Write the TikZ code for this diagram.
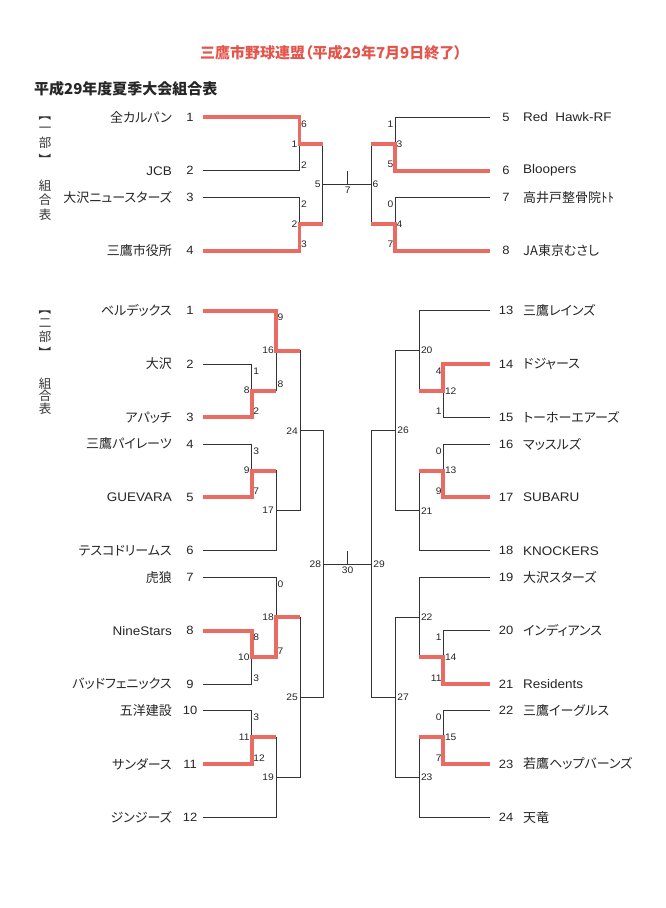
\documentclass[tikz,border=0pt]{standalone}
\usepackage{fontspec}
\setmainfont{Liberation Sans}[FakeStretch=1.08]
\newfontfamily\jpfont{Noto Sans CJK JP}[RawFeature=+palt]
\usetikzlibrary{positioning}
\definecolor{WinRed}{HTML}{E96B62}
\definecolor{TitleRed}{HTML}{E5544B}
\definecolor{LineGray}{HTML}{333333}
\tikzset{
  % Text styles
  titletext/.style={font=\jpfont\bfseries\fontsize{15}{17}\selectfont, text=TitleRed, inner sep=0pt},
  headtext/.style={font=\jpfont\bfseries\fontsize{15}{17}\selectfont, text=black!85, inner sep=0pt},
  sidechar/.style={font=\jpfont\fontsize{12.5}{14}\selectfont, inner sep=0pt, text=black!80},
  tnum/.style={font=\fontsize{12}{14}\selectfont, inner sep=0pt, text=black!85},
  jname/.style={font=\jpfont\fontsize{13}{15}\selectfont, inner sep=0pt, text=black!85},
  ename/.style={font=\fontsize{12.5}{14}\selectfont, inner sep=0pt, text=black!85},
  score/.style={font=\fontsize{9.5}{11}\selectfont, inner sep=0pt, text=black!85},
  scl/.style={score, anchor=east},
  scr/.style={score, anchor=west},
  % Line styles
  bline/.style={draw=LineGray, line width=1pt},
  winline/.style={draw=WinRed, line width=3.8pt}
}
\begin{document}
\begin{tikzpicture}[x=1pt, y=-1pt]
  \fill[white] (0,0) rectangle (666,908);
  \useasboundingbox (0,0) rectangle (666,908);

  % Titles
  \node[titletext] (title) at (331,53) {三鷹市野球連盟（平成29年7月9日終了）};
  \node[headtext, anchor=west] (head) at (34,89) {平成29年度夏季大会組合表};

  % Division labels (vertical)
  \node[sidechar, rotate=-90] (d1open) at (45,118) {【};
  \node[sidechar] (d1num) at (45,129.5) {一};
  \node[sidechar] (d1bu) at (45,143) {部};
  \node[sidechar, rotate=-90] (d1close) at (45,157) {】};
  \node[sidechar] (d1k1) at (45,185.5) {組};
  \node[sidechar] (d1k2) at (45,200) {合};
  \node[sidechar] (d1k3) at (45,214.5) {表};
  \node[sidechar, rotate=-90] (d2open) at (45,312) {【};
  \node[sidechar] (d2num) at (45,323.5) {二};
  \node[sidechar] (d2bu) at (45,336.5) {部};
  \node[sidechar, rotate=-90] (d2close) at (45,350) {】};
  \node[sidechar] (d2k1) at (45,383.5) {組};
  \node[sidechar] (d2k2) at (45,396) {合};
  \node[sidechar] (d2k3) at (45,408.5) {表};

  % First division, left teams
  \coordinate (a1) at (203,117.3); \node[tnum] (a1n) at (190,117.3) {1}; \node[jname, anchor=east] (a1t) at (172,117.3) {全カルパン};
  \coordinate (a2) at (203,170.7); \node[tnum] (a2n) at (190,170.7) {2}; \node[ename, anchor=east] (a2t) at (172,170.7) {JCB};
  \coordinate (a3) at (203,197.3); \node[tnum] (a3n) at (190,197.3) {3}; \node[jname, anchor=east] (a3t) at (172,197.3) {大沢ニュースターズ};
  \coordinate (a4) at (203,250.7); \node[tnum] (a4n) at (190,250.7) {4}; \node[jname, anchor=east] (a4t) at (172,250.7) {三鷹市役所};

  % First division, right teams
  \coordinate (a5) at (490,117.3); \node[tnum] (a5n) at (506,117.3) {5}; \node[ename, anchor=west] (a5t) at (523,117.3) {Red\ \ Hawk-RF};
  \coordinate (a6) at (490,170.7); \node[tnum] (a6n) at (506,170.7) {6}; \node[ename, anchor=west] (a6t) at (523,170.7) {Bloopers};
  \coordinate (a7) at (490,197.3); \node[tnum] (a7n) at (506,197.3) {7}; \node[jname, anchor=west] (a7t) at (523,197.3) {高井戸整骨院ﾄﾄ};
  \coordinate (a8) at (490,250.7); \node[tnum] (a8n) at (506,250.7) {8}; \node[jname, anchor=west] (a8t) at (523,250.7) {JA東京むさし};

  % First division, matches
  \coordinate (m1) at (299.5,144);
  \coordinate (m2) at (299.5,224);
  \coordinate (m3) at (395,144);
  \coordinate (m4) at (395,224);
  \coordinate (m5) at (322.7,184);
  \coordinate (m6) at (371,184);
  \coordinate (m7) at (347.7,184);
  \coordinate (m7t) at (347.7,171);

  \draw[bline] (a1) -| (m1) (a2) -| (m1) (a3) -| (m2) (a4) -| (m2);
  \draw[bline] (a5) -| (m3) (a6) -| (m3) (a7) -| (m4) (a8) -| (m4);
  \draw[bline] (m1) -| (m5) (m2) -| (m5) (m3) -| (m6) (m4) -| (m6);
  \draw[bline] (m5) -- (m6) (m7) -- (m7t);

  % First division, winners
  \draw[winline] (a1) -| (m1) -- (m1 -| m5);
  \draw[winline] (a4) -| (m2) -- (m2 -| m5);
  \draw[winline] (a6) -| (m3) -- (m3 -| m6);
  \draw[winline] (a8) -| (m4) -- (m4 -| m6);

  % First division, scores
  \node[scr] (m1s1) at (301,124.3) {6}; \node[score, left=2pt of m1] (m1n) {1}; \node[scr] (m1s2) at (301,164.7) {2};
  \node[scr] (m2s1) at (301,204.3) {2}; \node[score, left=2pt of m2] (m2n) {2}; \node[scr] (m2s2) at (301,244.7) {3};
  \node[scl] (m3s1) at (393.5,124.3) {1}; \node[score, right=1.5pt of m3] (m3n) {3}; \node[scl] (m3s2) at (393.5,164.7) {5};
  \node[scl] (m4s1) at (393.5,204.3) {0}; \node[score, right=1.5pt of m4] (m4n) {4}; \node[scl] (m4s2) at (393.5,244.7) {7};
  \node[score, left=2pt of m5] (m5n) {5};
  \node[score, right=1.5pt of m6] (m6n) {6};
  \node[score, below=3pt of m7] (m7n) {7};

  % Second division, left teams
  \coordinate (b1) at (203,310.7); \node[tnum] (b1n) at (190,310.7) {1}; \node[jname, anchor=east] (b1t) at (172,310.7) {ベルデックス};
  \coordinate (b2) at (203,364); \node[tnum] (b2n) at (190,364) {2}; \node[jname, anchor=east] (b2t) at (172,364) {大沢};
  \coordinate (b3) at (203,417.3); \node[tnum] (b3n) at (190,417.3) {3}; \node[jname, anchor=east] (b3t) at (172,417.3) {アパッチ};
  \coordinate (b4) at (203,444); \node[tnum] (b4n) at (190,444) {4}; \node[jname, anchor=east] (b4t) at (172,444) {三鷹パイレーツ};
  \coordinate (b5) at (203,497.3); \node[tnum] (b5n) at (190,497.3) {5}; \node[ename, anchor=east] (b5t) at (172,497.3) {GUEVARA};
  \coordinate (b6) at (203,550.7); \node[tnum] (b6n) at (190,550.7) {6}; \node[jname, anchor=east] (b6t) at (172,550.7) {テスコドリームス};
  \coordinate (b7) at (203,577.3); \node[tnum] (b7n) at (190,577.3) {7}; \node[jname, anchor=east] (b7t) at (172,577.3) {虎狼};
  \coordinate (b8) at (203,630.7); \node[tnum] (b8n) at (190,630.7) {8}; \node[ename, anchor=east] (b8t) at (172,630.7) {NineStars};
  \coordinate (b9) at (203,684); \node[tnum] (b9n) at (190,684) {9}; \node[jname, anchor=east] (b9t) at (172,684) {バッドフェニックス};
  \coordinate (b10) at (203,710.7); \node[tnum] (b10n) at (190,710.7) {10}; \node[jname, anchor=east] (b10t) at (172,710.7) {五洋建設};
  \coordinate (b11) at (203,764); \node[tnum] (b11n) at (190,764) {11}; \node[jname, anchor=east] (b11t) at (172,764) {サンダース};
  \coordinate (b12) at (203,817.3); \node[tnum] (b12n) at (190,817.3) {12}; \node[jname, anchor=east] (b12t) at (172,817.3) {ジンジーズ};

  % Second division, right teams
  \coordinate (b13) at (490,310.7); \node[tnum] (b13n) at (506,310.7) {13}; \node[jname, anchor=west] (b13t) at (523,310.7) {三鷹レインズ};
  \coordinate (b14) at (490,364); \node[tnum] (b14n) at (506,364) {14}; \node[jname, anchor=west] (b14t) at (523,364) {ドジャース};
  \coordinate (b15) at (490,417.3); \node[tnum] (b15n) at (506,417.3) {15}; \node[jname, anchor=west] (b15t) at (523,417.3) {トーホーエアーズ};
  \coordinate (b16) at (490,444); \node[tnum] (b16n) at (506,444) {16}; \node[jname, anchor=west] (b16t) at (523,444) {マッスルズ};
  \coordinate (b17) at (490,497.3); \node[tnum] (b17n) at (506,497.3) {17}; \node[ename, anchor=west] (b17t) at (523,497.3) {SUBARU};
  \coordinate (b18) at (490,550.7); \node[tnum] (b18n) at (506,550.7) {18}; \node[ename, anchor=west] (b18t) at (523,550.7) {KNOCKERS};
  \coordinate (b19) at (490,577.3); \node[tnum] (b19n) at (506,577.3) {19}; \node[jname, anchor=west] (b19t) at (523,577.3) {大沢スターズ};
  \coordinate (b20) at (490,630.7); \node[tnum] (b20n) at (506,630.7) {20}; \node[jname, anchor=west] (b20t) at (523,630.7) {インディアンス};
  \coordinate (b21) at (490,684); \node[tnum] (b21n) at (506,684) {21}; \node[ename, anchor=west] (b21t) at (523,684) {Residents};
  \coordinate (b22) at (490,710.7); \node[tnum] (b22n) at (506,710.7) {22}; \node[jname, anchor=west] (b22t) at (523,710.7) {三鷹イーグルス};
  \coordinate (b23) at (490,764); \node[tnum] (b23n) at (506,764) {23}; \node[jname, anchor=west] (b23t) at (523,764) {若鷹ヘップバーンズ};
  \coordinate (b24) at (490,817.3); \node[tnum] (b24n) at (506,817.3) {24}; \node[jname, anchor=west] (b24t) at (523,817.3) {天竜};

  % Second division, matches
  \coordinate (m8) at (251.7,390.7);
  \coordinate (m9) at (251.7,470.7);
  \coordinate (m10) at (251.7,657.3);
  \coordinate (m11) at (251.7,737.3);
  \coordinate (m12) at (443.3,390.7);
  \coordinate (m13) at (443.3,470.7);
  \coordinate (m14) at (443.3,657.3);
  \coordinate (m15) at (443.3,737.3);
  \coordinate (m16) at (276,350.7);
  \coordinate (m17) at (276,510.7);
  \coordinate (m18) at (276,617.3);
  \coordinate (m19) at (276,777.3);
  \coordinate (m20) at (419.3,350.7);
  \coordinate (m21) at (419.3,510.7);
  \coordinate (m22) at (419.3,617.3);
  \coordinate (m23) at (419.3,777.3);
  \coordinate (m24) at (300,430.7);
  \coordinate (m25) at (300,697.3);
  \coordinate (m26) at (395.7,430.7);
  \coordinate (m27) at (395.7,697.3);
  \coordinate (m28) at (323.3,564);
  \coordinate (m29) at (371.7,564);
  \coordinate (m30) at (347.7,564);
  \coordinate (m30t) at (347.7,551);

  \draw[bline] (b1) -| (m16) (b2) -| (m8) (b3) -| (m8) (m8) -| (m16);
  \draw[bline] (b4) -| (m9) (b5) -| (m9) (m9) -| (m17) (b6) -| (m17);
  \draw[bline] (b7) -| (m18) (b8) -| (m10) (b9) -| (m10) (m10) -| (m18);
  \draw[bline] (b10) -| (m11) (b11) -| (m11) (m11) -| (m19) (b12) -| (m19);
  \draw[bline] (b13) -| (m20) (b14) -| (m12) (b15) -| (m12) (m12) -| (m20);
  \draw[bline] (b16) -| (m13) (b17) -| (m13) (m13) -| (m21) (b18) -| (m21);
  \draw[bline] (b19) -| (m22) (b20) -| (m14) (b21) -| (m14) (m14) -| (m22);
  \draw[bline] (b22) -| (m15) (b23) -| (m15) (m15) -| (m23) (b24) -| (m23);
  \draw[bline] (m16) -| (m24) (m17) -| (m24) (m18) -| (m25) (m19) -| (m25);
  \draw[bline] (m20) -| (m26) (m21) -| (m26) (m22) -| (m27) (m23) -| (m27);
  \draw[bline] (m24) -| (m28) (m25) -| (m28) (m26) -| (m29) (m27) -| (m29);
  \draw[bline] (m28) -- (m29) (m30) -- (m30t);

  % Second division, winners
  \draw[winline] (b1) -| (m16) -- (m16 -| m24);
  \draw[winline] (b3) -| (m8) -- (m8 -| m16);
  \draw[winline] (b5) -| (m9) -- (m9 -| m17);
  \draw[winline] (b8) -| (m10) -| (m18) -- (m18 -| m25);
  \draw[winline] (b11) -| (m11) -- (m11 -| m19);
  \draw[winline] (b14) -| (m12) -- (m12 -| m20);
  \draw[winline] (b17) -| (m13) -- (m13 -| m21);
  \draw[winline] (b21) -| (m14) -- (m14 -| m22);
  \draw[winline] (b23) -| (m15) -- (m15 -| m23);

  % Second division, scores
  \node[scr] (m8s1) at (253.2,371) {1}; \node[score, left=2pt of m8] (m8n) {8}; \node[scr] (m8s2) at (253.2,411.3) {2};
  \node[scr] (m16s1) at (277.5,317.7) {9}; \node[score, left=2pt of m16] (m16n) {16}; \node[scr] (m16s2) at (277.5,384.7) {8};
  \node[scr] (m9s1) at (253.2,451) {3}; \node[score, left=2pt of m9] (m9n) {9}; \node[scr] (m9s2) at (253.2,491.3) {7};
  \node[score, left=2pt of m17] (m17n) {17};
  \node[score, left=2pt of m24] (m24n) {24};
  \node[scr] (m18s1) at (277.5,584.3) {0}; \node[score, left=2pt of m18] (m18n) {18}; \node[scr] (m18s2) at (277.5,651.3) {7};
  \node[scr] (m10s1) at (253.2,637.7) {8}; \node[score, left=2pt of m10] (m10n) {10}; \node[scr] (m10s2) at (253.2,678) {3};
  \node[scr] (m11s1) at (253.2,717.7) {3}; \node[score, left=2pt of m11] (m11n) {11}; \node[scr] (m11s2) at (253.2,758) {12};
  \node[score, left=2pt of m19] (m19n) {19};
  \node[score, left=2pt of m25] (m25n) {25};
  \node[score, left=2pt of m28] (m28n) {28};
  \node[score, below=3pt of m30] (m30n) {30};
  \node[score, right=1.5pt of m29] (m29n) {29};
  \node[scl] (m12s1) at (441.8,371) {4}; \node[score, right=1.5pt of m12] (m12n) {12}; \node[scl] (m12s2) at (441.8,411.3) {1};
  \node[score, right=1.5pt of m20] (m20n) {20};
  \node[scl] (m13s1) at (441.8,451) {0}; \node[score, right=1.5pt of m13] (m13n) {13}; \node[scl] (m13s2) at (441.8,491.3) {9};
  \node[score, right=1.5pt of m21] (m21n) {21};
  \node[score, right=1.5pt of m26] (m26n) {26};
  \node[scl] (m14s1) at (441.8,637.7) {1}; \node[score, right=1.5pt of m14] (m14n) {14}; \node[scl] (m14s2) at (441.8,678) {11};
  \node[score, right=1.5pt of m22] (m22n) {22};
  \node[scl] (m15s1) at (441.8,717.7) {0}; \node[score, right=1.5pt of m15] (m15n) {15}; \node[scl] (m15s2) at (441.8,758) {7};
  \node[score, right=1.5pt of m23] (m23n) {23};
  \node[score, right=1.5pt of m27] (m27n) {27};
\end{tikzpicture}
\end{document}
